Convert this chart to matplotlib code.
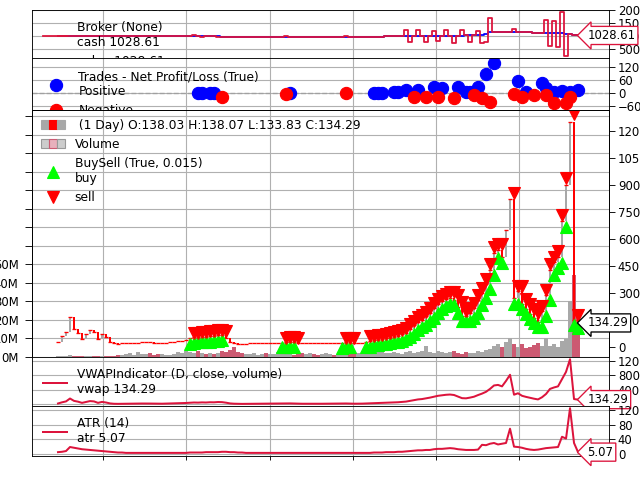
import matplotlib
matplotlib.use('Agg')
import matplotlib.pyplot as plt
import matplotlib.ticker as mticker
import matplotlib.transforms as mtransforms
from matplotlib.lines import Line2D
from matplotlib.patches import Rectangle
from matplotlib.legend_handler import HandlerTuple
import numpy as np

# daily closes, one value per plotted bar
close = [28, 60, 85, 165, 100, 78, 45, 70, 94, 85,
         45, 72, 55, 30, 20, 18, 20, 22, 22, 24,
         25, 27, 28, 26, 24, 22, 22, 25, 28, 30,
         33, 36, 42, 48, 55, 52, 58, 55, 62, 60,
         68, 65, 50, 30, 22, 18, 17, 18, 20, 21,
         22, 22, 21, 22, 22, 23, 24, 28, 30, 26,
         22, 21, 22, 22, 21, 20, 21, 22, 22, 21,
         22, 24, 28, 24, 22, 22, 24, 28, 35, 38,
         40, 44, 50, 52, 56, 62, 70, 80, 100, 120,
         140, 150, 170, 190, 215, 240, 255, 268, 275, 262,
         220, 175, 170, 190, 215, 260, 300, 350, 430, 525,
         540, 500, 650, 820, 270, 310, 240, 210, 185, 160,
         140, 200, 290, 430, 470, 500, 700, 900, 1250, 150,
         134.29]

# volume in millions
volume_m = [0.3, 0.4, 0.8, 1.2, 0.6, 0.5, 0.4, 0.5, 0.6, 0.4, 0.4, 0.5, 0.4,
            0.6, 0.8, 1.2, 1.0, 1.5, 2.0, 1.2, 2.7, 1.8, 1.5, 2.2, 1.0, 1.4, 1.6, 1.2, 1.0,
            1.8, 2.5, 2.0, 3.0, 2.8, 2.2, 3.0, 2.0, 1.6, 2.4, 1.8, 2.0, 3.5, 2.6,
            3.7, 5.3, 2.5, 2.0, 1.5, 1.8, 2.2, 1.2, 1.6, 2.0, 1.4, 1.8, 2.6, 4.8, 2.2, 1.6,
            1.2, 1.8, 2.0, 1.4, 2.2, 1.6, 1.2, 1.8, 2.4, 1.5, 1.3, 1.8, 2.0, 2.6, 1.7, 1.4,
            2.2, 1.9, 1.6,
            2.4, 1.8, 2.8, 4.8, 2.2, 1.9, 2.5, 2.0, 1.8, 2.6, 3.0, 2.2, 2.7, 3.4, 6.0, 2.8,
            2.4, 3.2, 2.6, 2.0, 2.5, 3.0, 2.2, 1.8, 2.6, 2.4, 1.9, 3.0, 2.8, 3.6,
            4.5, 6.0, 7.2, 5.5, 8.0, 10.2, 7.0, 5.5, 6.8, 4.8, 5.2, 6.5, 7.5, 5.8, 10.0, 6.2,
            7.0, 5.5, 8.5, 9.5,
            30, 44, 26]

# daily vwap equals the close on daily bars (legend shows the same 134.29)
vwap = list(close)

atr = [5, 6, 8, 19, 17, 15, 13, 12, 11, 10, 9, 8, 7, 6,
       5, 4, 4, 3, 3, 3, 3, 3, 3, 3, 3, 3, 3, 3, 3, 3, 3, 3, 3, 4,
       4, 4, 4, 5, 5, 5, 5, 6, 6,
       5, 5, 4, 4, 3, 3, 3, 3, 3, 3, 3, 3, 3, 3, 3, 3, 3, 3, 3, 3,
       3, 3, 3, 3, 3, 3, 3, 3, 3, 3, 3, 3, 3, 3, 3, 3,
       4, 4, 4, 5, 5, 5, 6,
       6, 7, 8, 9, 10, 10, 11, 11,
       13, 14, 14, 15, 16, 15,
       13, 12, 11, 11, 11, 12,
       25, 24, 28, 30, 26, 28, 30,
       69,
       20, 19, 17,
       14, 12, 11, 12, 14,
       16, 17, 18, 19,
       47, 42,
       125, 30, 5.07]

value = [1000] * 33 + \
        [1001, 1002, 1003, 1003, 1004, 1005, 1005, 1006] + \
        [988] * 16 + [985] * 15 + [983] * 7 + \
        [984, 986, 987, 990, 992, 995, 999, 1002, 1005, 1006] + \
        [1008, 1010, 1012, 1013, 1015, 1016, 1018, 1020, 1021, 1022, 1024, 1025, 1026, 1028,
         1030, 1031, 1032, 1060, 1070] + \
        [1180, 1165, 1160, 1160, 1160, 1162, 1159, 1170, 1152, 1157, 1150] + \
        [1141, 1140, 1138, 1136, 1134, 1132, 1130, 1128, 1102, 1080, 1060, 1028.61]

# bars where cash differs from value (open position)
cash_spike_bars = [34, 36, 38, 40, 57, 72, 87, 88, 90, 92, 94, 95, 97, 99, 101, 103, 105, 106, 107,
                   108, 114, 122, 123, 124, 125, 126, 127]
cash_spike_vals = [1030, 975, 1025, 970, 1020, 1015, 1220, 760, 1230, 780, 1200, 800, 1230, 740,
                   1220, 790, 1210, 740, 760, 1690, 1270, 1620, 620, 1600, 600, 1950, 230]

pos_bars = [35, 36, 38, 39, 58, 79, 80, 81, 84, 85, 87, 90, 94, 96, 100, 102, 103, 105, 107, 109,
            115, 117, 121, 122, 124, 126, 128, 130]
pos_pnl = [2, 1, 2, 1, 2, 1, 2, 1, 3, 4, 14, 12, 28, 23, 28, 5, 5, 28, 88, 138,
           55, 5, 46, 23, 5, 8, 5, 14]
neg_bars = [41, 57, 72, 89, 92, 95, 99, 104, 106, 108, 114, 116, 119, 122, 124, 127, 128]
neg_pnl = [-18, -3, -2, -18, -16, -16, -23, -9, -23, -42, -3, -18, -9, -10, -46, -46, -18]

buy_bars = [33, 34, 35, 36, 37, 38, 39, 40, 41, 56, 57, 58, 59, 71, 72, 73] + \
           list(range(77, 112)) + list(range(114, 128)) + [129, 130]
sell_bars = [34, 35, 36, 37, 38, 39, 40, 41, 42, 57, 58, 59, 60, 72, 73, 74] + \
            list(range(78, 112)) + list(range(114, 128)) + [129, 130]

ohlc_label = ' (1 Day) O:138.03 H:138.07 L:133.83 C:134.29'
cash_last = 1028.61
atr_last = 5.07

crimson = '#dc143c'
up_col = '#a8a8a8'
down_col = 'red'
vol_down = '#cc5a72'

n = len(close)
x = np.arange(n)
close = np.array(close, dtype=float)
opens = np.r_[close[0], close[:-1]]
lows = np.minimum(opens, close)
highs = np.maximum(opens, close)
is_up = close >= opens
cash = list(value)
for b, v in zip(cash_spike_bars, cash_spike_vals):
    cash[b] = v

plt.rcParams['font.size'] = 10.5
plt.rcParams['ytick.major.size'] = 5.5
plt.rcParams['ytick.major.pad'] = 2.5
fig = plt.figure(figsize=(8, 6), dpi=80)
L, W = 0.05, 0.9016
ax_broker = fig.add_axes([L, 0.8792, W, 0.1000])
ax_trades = fig.add_axes([L, 0.7708, W, 0.1084], sharex=ax_broker)
ax_vol = fig.add_axes([L, 0.25625, W, 0.51455], sharex=ax_broker)
ax_price = ax_vol.twinx()
ax_vwap = fig.add_axes([L, 0.1542, W, 0.10205], sharex=ax_broker)
ax_atr = fig.add_axes([L, 0.05, W, 0.1042], sharex=ax_broker)

xtick_pos = [11.25, 32, 53, 73.75, 94.5, 115.25]
ax_broker.set_xlim(-6.5, 137.75)
ax_broker.set_xticks(xtick_pos)
for ax in [ax_broker, ax_trades, ax_vol, ax_vwap, ax_atr]:
    ax.grid(True, color='#b0b0b0', lw=1)
    ax.tick_params(axis='x', labelbottom=False)
    if ax is not ax_atr:
        ax.tick_params(axis='x', bottom=False)
for ax in [ax_broker, ax_trades, ax_vwap, ax_atr]:
    ax.yaxis.tick_right()


def tag(ax, y, txt, ec):
    ax.text(n + 1.3, y, txt, ha='left', va='center', fontsize=10.5, zorder=10, clip_on=False,
            bbox=dict(boxstyle='larrow,pad=0.22', fc='white', ec=ec, lw=1.2))


leg_kw = dict(loc='upper left', frameon=False, fontsize=11, borderaxespad=0.5)

# broker
ax_broker.plot(x, value, color='blue', lw=1.6, drawstyle='steps-mid')
ax_broker.plot(x, cash, color=crimson, lw=1.6, drawstyle='steps-mid')
ax_broker.set_ylim(160, 2010)
ax_broker.set_yticks([500, 1000, 1500, 2000])
ax_broker.legend([Line2D([], [], color=crimson, lw=1.6), Line2D([], [], color='blue', lw=1.6)],
                 ['Broker (None)\ncash %.2f' % cash_last, 'value %.2f' % value[-1]], **leg_kw)
tag(ax_broker, cash_last, '%.2f' % cash_last, crimson)

# trades
ax_trades.axhline(0, color='#a0a0a0', ls='--', lw=1.2)
ax_trades.plot(pos_bars, pos_pnl, ls='', marker='o', ms=11, color='blue')
ax_trades.plot(neg_bars, neg_pnl, ls='', marker='o', ms=11, color='red')
ax_trades.set_ylim(-78, 161)
ax_trades.set_yticks([-60, 0, 60, 120])
ax_trades.legend([Line2D([], [], ls='', marker='o', ms=11, color='blue'),
                  Line2D([], [], ls='', marker='o', ms=11, color='red')],
                 ['Trades - Net Profit/Loss (True)\nPositive', 'Negative'],
                 **dict(leg_kw, borderaxespad=0.6))

# volume (left axis)
volmax = max(volume_m) * 1e6
ax_vol.bar(x, np.array(volume_m) * 1e6, width=0.8,
           color=[up_col if u else vol_down for u in is_up], zorder=2)
ax_vol.set_ylim(0, volmax / 0.33)
ax_vol.yaxis.set_major_locator(mticker.MultipleLocator(10e6))
ax_vol.yaxis.set_major_formatter(mticker.FuncFormatter(
    lambda y, pos: '' if y > volmax * 1.2 else '%dM' % round(y / 1e6)))
ax_vol.tick_params(axis='y', length=6.5, pad=5.5)

# price (right axis)
cols = [up_col if u else down_col for u in is_up]
ax_price.vlines(x, lows, highs, colors=cols, lw=1.8)
ax_price.plot(x, close, ls='', marker='_', ms=3, mew=1.2, color=down_col)
off_dn = ax_price.transData + mtransforms.ScaledTranslation(0, -4 / 72, fig.dpi_scale_trans)
off_up = ax_price.transData + mtransforms.ScaledTranslation(0, 4 / 72, fig.dpi_scale_trans)
ax_price.plot(buy_bars, lows[buy_bars] * (1 - 0.015), ls='', marker='^', ms=10.5,
              color='#00ff00', transform=off_dn)
ax_price.plot(sell_bars, highs[sell_bars] * (1 + 0.015), ls='', marker='v', ms=10.5,
              color='red', transform=off_up)
ax_price.set_ylim(-55, 1317)
ax_price.set_yticks(np.arange(0, 1201, 150))
ax_price.grid(False)

candle_h = (Rectangle((0, 0), 1, 1, fc=up_col, ec=up_col),
            Rectangle((0, 0), 1, 1, fc=down_col, ec=down_col),
            Rectangle((0, 0), 1, 1, fc=up_col, ec=up_col))
vol_h = (Rectangle((0, 0), 1, 1, fc='#cccccc', ec='#999999'),
         Rectangle((0, 0), 1, 1, fc='#e8b0bc', ec=vol_down),
         Rectangle((0, 0), 1, 1, fc='#cccccc', ec='#999999'))
ax_price.legend([candle_h, vol_h,
                 Line2D([], [], ls='', marker='^', ms=11, color='#00ff00'),
                 Line2D([], [], ls='', marker='v', ms=11, color='red')],
                [ohlc_label, 'Volume', 'BuySell (True, 0.015)\nbuy', 'sell'],
                handler_map={tuple: HandlerTuple(ndivide=None, pad=0)},
                **dict(leg_kw, borderaxespad=0.3))
tag(ax_price, close[-1], '%.2f' % close[-1], 'black')

# vwap
ax_vwap.plot(x, vwap, color=crimson, lw=1.8)
ax_vwap.set_ylim(-41, 1310)
ax_vwap.set_yticks([0, 400, 800, 1200])
ax_vwap.legend([Line2D([], [], color=crimson, lw=1.8)],
               ['VWAPIndicator (D, close, volume)\nvwap %.2f' % vwap[-1]], **leg_kw)
tag(ax_vwap, vwap[-1], '%.2f' % vwap[-1], crimson)

# atr
ax_atr.plot(x, atr, color=crimson, lw=1.8)
ax_atr.set_ylim(-5.5, 131)
ax_atr.set_yticks([0, 40, 80, 120])
ax_atr.legend([Line2D([], [], color=crimson, lw=1.8)],
              ['ATR (14)\natr %.2f' % atr_last], **leg_kw)
tag(ax_atr, atr_last, '%.2f' % atr_last, crimson)

fig.savefig('out.png', dpi=80)
